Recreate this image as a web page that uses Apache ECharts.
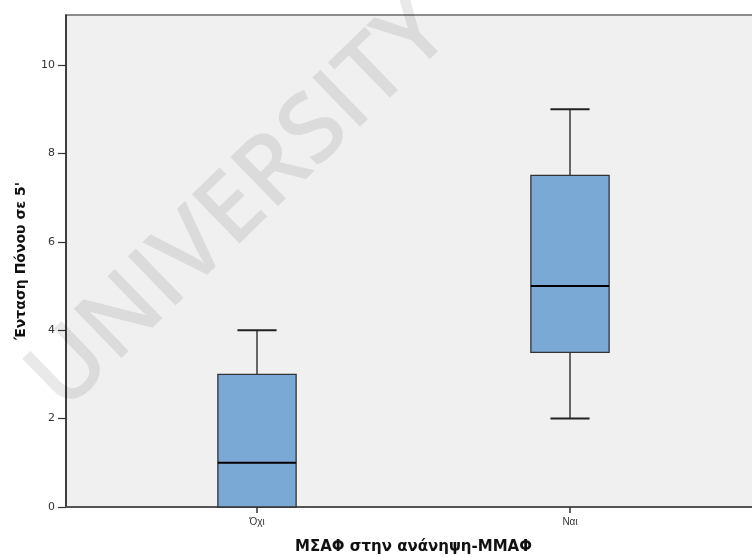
<!DOCTYPE html>
<html>
<head>
<meta charset="utf-8">
<script src="https://cdn.jsdelivr.net/npm/echarts@6/dist/echarts.min.js"></script>
<style>html,body{margin:0;padding:0;background:#fff;}#c{width:752px;height:557px;}</style>
</head>
<body>
<div id="c"></div>
<script>
const categories = ['Όχι', 'Ναι'];
const mins    = [0, 2];
const q1s     = [0, 3.5];
const medians = [1, 5];
const q3s     = [3, 7.5];
const maxs    = [4, 9];
const yTicks  = [0, 2, 4, 6, 8, 10];
const yName = "Ένταση Πόνου σε 5'";
const xName = 'ΜΣΑΦ στην ανάνηψη-ΜΜΑΦ';
const watermark = 'UNIVERSITY';

const Y_MAX = 11.13;
const data = categories.map((c, i) => [i, mins[i], q1s[i], medians[i], q3s[i], maxs[i]]);

const chart = echarts.init(document.getElementById('c'), null, {renderer: 'canvas'});
const font = '"Liberation Sans", Arial, sans-serif';
const wideFont = '"DejaVu Sans", Verdana, sans-serif';

function renderItem(params, api) {
  const i = api.value(0);
  const band = api.size([1, 0])[0];
  const bw = band * 0.25;
  const cw = band * 0.125;
  const pMin = api.coord([i, api.value(1)]);
  const pQ1 = api.coord([i, api.value(2)]);
  const pMed = api.coord([i, api.value(3)]);
  const pQ3 = api.coord([i, api.value(4)]);
  const pMax = api.coord([i, api.value(5)]);
  const cx = pQ1[0];
  const children = [];
  const wStyle = {stroke: '#3a3a3a', lineWidth: 1.5};
  if (api.value(5) > api.value(4)) {
    children.push({type: 'line', shape: {x1: cx, y1: pQ3[1], x2: cx, y2: pMax[1]}, style: wStyle});
    children.push({type: 'line', shape: {x1: cx - cw / 2, y1: pMax[1], x2: cx + cw / 2, y2: pMax[1]}, style: {stroke: '#222', lineWidth: 2}});
  }
  if (api.value(1) < api.value(2)) {
    children.push({type: 'line', shape: {x1: cx, y1: pQ1[1], x2: cx, y2: pMin[1]}, style: wStyle});
    children.push({type: 'line', shape: {x1: cx - cw / 2, y1: pMin[1], x2: cx + cw / 2, y2: pMin[1]}, style: {stroke: '#222', lineWidth: 2}});
  }
  children.push({type: 'rect', shape: {x: cx - bw / 2, y: pQ3[1], width: bw, height: pQ1[1] - pQ3[1]},
    style: {fill: '#7ba9d6', stroke: '#333', lineWidth: 1.3}});
  children.push({type: 'line', shape: {x1: cx - bw / 2, y1: pMed[1], x2: cx + bw / 2, y2: pMed[1]},
    style: {stroke: '#000', lineWidth: 2}});
  return {type: 'group', children};
}

const option = {
  animation: false,
  backgroundColor: '#ffffff',
  grid: [
    {left: 66, right: -5, top: 15, bottom: 50, show: true, backgroundColor: '#f0f0f0', borderColor: '#6a6a6a', borderWidth: 1.5, containLabel: false, outerBoundsMode: 'none'},
    {left: 100.5, right: 25.5, top: 15, bottom: 50, containLabel: false, outerBoundsMode: 'none'}
  ],
  xAxis: [
    {gridIndex: 0, type: 'value', min: 0, max: 1, axisLine: {show: true, lineStyle: {color: '#555', width: 2}}, axisTick: {show: false}, axisLabel: {show: false}, splitLine: {show: false}},
    {gridIndex: 1, type: 'category', data: categories, boundaryGap: true,
      axisLine: {show: false}, axisTick: {show: true, alignWithLabel: true, length: 6, lineStyle: {color: '#333', width: 1.5}},
      axisLabel: {color: '#333', fontSize: 10, fontFamily: font, margin: 10},
      name: xName, nameLocation: 'middle', nameGap: 33,
      nameTextStyle: {color: '#111', fontSize: 15, fontWeight: 'bold', fontFamily: wideFont},
      splitLine: {show: false}}
  ],
  yAxis: [
    {gridIndex: 0, type: 'value', min: 0, max: Y_MAX,
      axisLine: {show: true, lineStyle: {color: '#222', width: 1.5}},
      axisTick: {show: true, length: 8, lineStyle: {color: '#333', width: 1.2}, customValues: yTicks},
      axisLabel: {color: '#333', fontSize: 11, fontFamily: wideFont, margin: 11, customValues: yTicks},
      splitLine: {show: false},
      name: yName, nameLocation: 'middle', nameGap: 38,
      nameTextStyle: {color: '#111', fontSize: 14, fontWeight: 'bold', fontFamily: wideFont}},
    {gridIndex: 1, type: 'value', min: 0, max: Y_MAX, show: false, splitLine: {show: false}}
  ],
  series: [{
    type: 'custom', xAxisIndex: 1, yAxisIndex: 1, data: data, renderItem: renderItem,
    encode: {x: 0, y: [1, 2, 3, 4, 5]}, z: 5
  }],
  graphic: [{
    type: 'text', x: 240, y: 205, rotation: 0.77, z: 100, silent: true,
    style: {text: watermark, fontSize: 96, fontFamily: '"Open Sans", sans-serif', fontWeight: 600,
      fill: 'rgba(0,0,0,0.085)', align: 'center', verticalAlign: 'middle'}
  }]
};
chart.setOption(option);
</script>
</body>
</html>
